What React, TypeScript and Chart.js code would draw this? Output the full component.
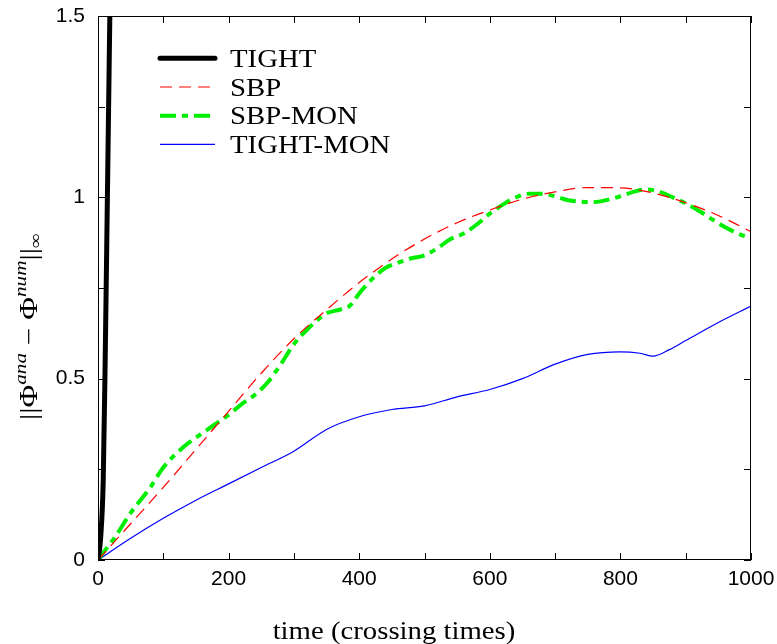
import React, { useEffect, useRef } from "react";
import { Chart, registerables } from "chart.js";

Chart.register(...registerables);

// ---- data ----
const tightT = [0, 4, 8, 11, 14, 17, 19];
const tightY = [0, 0.06, 0.22, 0.55, 0.95, 1.35, 1.62];

const sbpT = [0, 25, 50, 100, 150, 200, 250, 300, 350, 400, 450, 500, 550, 600, 650, 700, 750, 800, 850, 900, 950, 1000];
const sbpY = [0, 0.05, 0.1, 0.2, 0.305, 0.41, 0.515, 0.61, 0.69, 0.765, 0.83, 0.885, 0.93, 0.965, 0.995, 1.015, 1.027, 1.026, 1.012, 0.985, 0.95, 0.905];

const sbpMonT = [0, 10, 25, 50, 80, 100, 130, 160, 180, 200, 220, 240, 260, 280, 300, 320, 350, 370, 385, 400, 420, 440, 460, 480, 500, 520, 540, 560, 580, 600, 620, 640, 660, 680, 700, 720, 740, 760, 780, 800, 820, 840, 860, 880, 900, 920, 940, 960, 980, 1000];
const sbpMonY = [0, 0.025, 0.06, 0.13, 0.2, 0.255, 0.31, 0.35, 0.375, 0.4, 0.43, 0.455, 0.49, 0.54, 0.595, 0.635, 0.68, 0.69, 0.7, 0.735, 0.775, 0.805, 0.82, 0.832, 0.84, 0.86, 0.885, 0.9, 0.925, 0.955, 0.98, 1.0, 1.01, 1.01, 1.003, 0.992, 0.988, 0.987, 0.993, 1.003, 1.015, 1.022, 1.015, 1.0, 0.983, 0.963, 0.94, 0.918, 0.9, 0.887];

const tightMonT = [0, 50, 100, 150, 200, 250, 300, 350, 400, 450, 500, 550, 600, 650, 700, 750, 800, 830, 850, 875, 900, 950, 1000];
const tightMonY = [0, 0.06, 0.115, 0.165, 0.21, 0.255, 0.3, 0.36, 0.395, 0.415, 0.425, 0.45, 0.47, 0.5, 0.54, 0.567, 0.574, 0.57, 0.562, 0.58, 0.605, 0.655, 0.7];

const seriesLabels = ["TIGHT", "SBP", "SBP-MON", "TIGHT-MON"];
const xTitle = "time (crossing times)";
const xMinorStep = 100;
const yMinorStep = 0.25;

const pts = (t: number[], y: number[]) => t.map((v, i) => ({ x: v, y: y[i] }));

const SERIF = "'Liberation Serif', 'Times New Roman', serif";
const SANS = "'Liberation Sans', Arial, sans-serif";
const SX = 1.15; // horizontal stretch for Computer-Modern-like width

function stretchText(ctx: CanvasRenderingContext2D, text: string, x: number, y: number, align: CanvasTextAlign) {
  ctx.save();
  ctx.translate(x, y);
  ctx.scale(SX, 1);
  ctx.textAlign = align;
  ctx.textBaseline = "alphabetic";
  ctx.fillText(text, 0, 0);
  ctx.restore();
}

const zeroPad = (s: any) => {
  s.paddingTop = 0;
  s.paddingBottom = 0;
  s.paddingLeft = 0;
  s.paddingRight = 0;
};

const decor = {
  id: "decor",
  afterDraw(chart: any) {
    const { ctx, chartArea: a, scales } = chart;
    const xs = scales.x;
    const ys = scales.y;
    ctx.save();
    ctx.strokeStyle = "#000";
    ctx.lineWidth = 1;
    ctx.setLineDash([]);
    ctx.beginPath();
    for (let v = xs.min; v <= xs.max + 1e-9; v += xMinorStep) {
      const px = Math.round(xs.getPixelForValue(v)) + 0.5;
      ctx.moveTo(px, a.bottom);
      ctx.lineTo(px, a.bottom - 7);
      ctx.moveTo(px, a.top);
      ctx.lineTo(px, a.top + 7);
    }
    for (let v = ys.min; v <= ys.max + 1e-9; v += yMinorStep) {
      const py = Math.round(ys.getPixelForValue(v)) + 0.5;
      ctx.moveTo(a.left, py);
      ctx.lineTo(a.left + 7, py);
      ctx.moveTo(a.right, py);
      ctx.lineTo(a.right - 7, py);
    }
    ctx.stroke();
    ctx.strokeRect(Math.round(a.left) + 0.5, Math.round(a.top) + 0.5, Math.round(a.right - a.left) - 1, Math.round(a.bottom - a.top) - 1);

    // legend
    ctx.fillStyle = "#000";
    ctx.font = `25px ${SERIF}`;
    chart.data.datasets.forEach((ds: any, i: number) => {
      const ly = 58.3 + i * 28.7;
      ctx.save();
      ctx.strokeStyle = ds.borderColor;
      ctx.lineWidth = ds.borderWidth;
      ctx.setLineDash(ds.borderDash || []);
      ctx.lineCap = ds.borderCapStyle || "butt";
      ctx.beginPath();
      ctx.moveTo(160, ly);
      ctx.lineTo(215, ly);
      ctx.stroke();
      ctx.restore();
      stretchText(ctx, ds.label, 230, ly + 8.7, "left");
    });

    // x title
    stretchText(ctx, xTitle, 394, 639, "center");

    // y title (rotated, with super/subscripts)
    const parts: { t: string; f: string; dy: number }[] = [
      { t: "||Φ", f: `25px ${SERIF}`, dy: 0 },
      { t: "ana", f: `italic 17px ${SERIF}`, dy: -11 },
      { t: " − Φ", f: `25px ${SERIF}`, dy: 0 },
      { t: "num", f: `italic 17px ${SERIF}`, dy: -11 },
      { t: "||", f: `25px ${SERIF}`, dy: 0 },
      { t: "∞", f: `17px ${SERIF}`, dy: 4 },
    ];
    let W = 0;
    const widths = parts.map((p) => {
      ctx.font = p.f;
      const w = ctx.measureText(p.t).width;
      W += w;
      return w;
    });
    ctx.save();
    ctx.translate(37, 326.5);
    ctx.rotate(-Math.PI / 2);
    ctx.scale(187 / W, 1);
    ctx.textAlign = "left";
    ctx.textBaseline = "alphabetic";
    let cx = -W / 2;
    parts.forEach((p, i) => {
      ctx.font = p.f;
      ctx.fillText(p.t, cx, p.dy);
      cx += widths[i];
    });
    ctx.restore();
    ctx.restore();
  },
};

export default function App() {
  const ref = useRef<HTMLCanvasElement>(null);
  useEffect(() => {
    const chart = new Chart(ref.current as HTMLCanvasElement, {
      type: "scatter",
      data: {
        datasets: [
          {
            label: seriesLabels[0],
            data: pts(tightT, tightY),
            showLine: true,
            borderColor: "#000000",
            borderWidth: 5,
            pointRadius: 0,
            cubicInterpolationMode: "monotone",
            borderCapStyle: "round",
          },
          {
            label: seriesLabels[1],
            data: pts(sbpT, sbpY),
            showLine: true,
            borderColor: "#ff0000",
            borderWidth: 1.2,
            borderDash: [12, 7],
            pointRadius: 0,
            cubicInterpolationMode: "monotone",
          },
          {
            label: seriesLabels[2],
            data: pts(sbpMonT, sbpMonY),
            showLine: true,
            borderColor: "#00ee00",
            borderWidth: 4,
            borderDash: [16, 6, 6, 6],
            pointRadius: 0,
            cubicInterpolationMode: "monotone",
          },
          {
            label: seriesLabels[3],
            data: pts(tightMonT, tightMonY),
            showLine: true,
            borderColor: "#0000ff",
            borderWidth: 1.2,
            pointRadius: 0,
            cubicInterpolationMode: "monotone",
          },
        ],
      } as any,
      options: {
        responsive: false,
        devicePixelRatio: 1,
        animation: false,
        layout: { padding: { left: 0, top: 16, right: 26, bottom: 0 } },
        plugins: { legend: { display: false }, tooltip: { enabled: false } },
        scales: {
          x: {
            type: "linear",
            min: 0,
            max: 1000,
            afterFit: (s: any) => {
              s.height = 84;
              zeroPad(s);
            },
            grid: { display: false, drawTicks: false },
            border: { display: false },
            ticks: {
              stepSize: 200,
              padding: 7,
              color: "#000",
              font: { family: SANS, size: 21 },
              maxRotation: 0,
              callback: (v: any) => String(v),
            },
          },
          y: {
            type: "linear",
            min: 0,
            max: 1.5,
            afterFit: (s: any) => {
              s.width = 98;
              zeroPad(s);
            },
            grid: { display: false, drawTicks: false },
            border: { display: false },
            ticks: {
              stepSize: 0.5,
              padding: 13,
              color: "#000",
              font: { family: SANS, size: 21 },
              callback: (v: any) => String(v),
            },
          },
        },
      } as any,
      plugins: [decor],
    });
    return () => chart.destroy();
  }, []);
  return (
    <div style={{ position: "absolute", left: 0, top: 0, width: 777, height: 644, background: "#fff" }}>
      <canvas ref={ref} width={777} height={644} style={{ width: 777, height: 644, display: "block" }} />
    </div>
  );
}
